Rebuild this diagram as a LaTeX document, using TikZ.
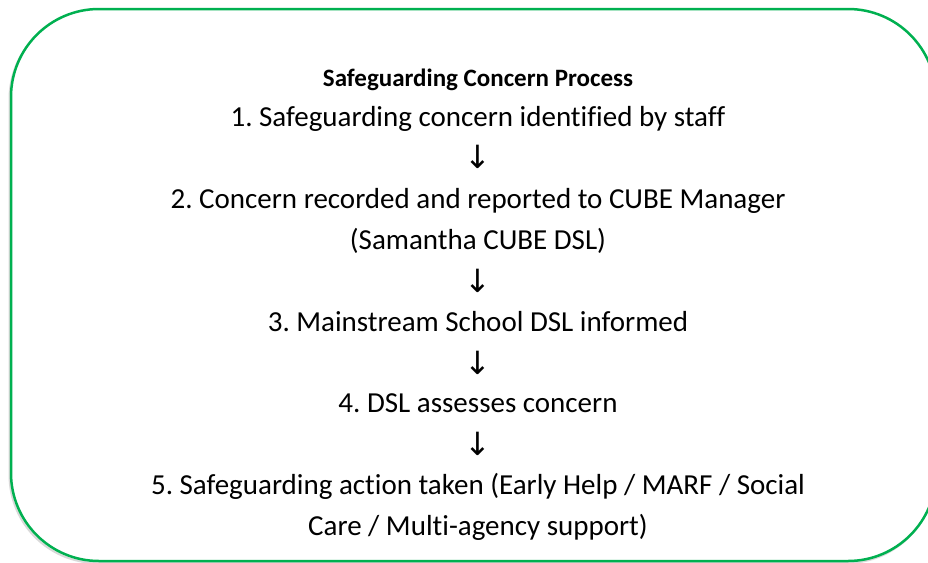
\documentclass[tikz,border=0pt]{standalone}
\usepackage{fontspec}
\setmainfont{Carlito}[Ligatures={NoCommon}]
\newfontfamily\arrowfont{DejaVu Sans}
\definecolor{boxgreen}{HTML}{00B050}
\tikzset{
  line/.style={anchor=base, inner sep=0pt, font=\fontsize{29}{35}\selectfont\frenchspacing},
  title/.style={anchor=base, inner sep=0pt, font=\fontsize{25}{30}\selectfont\bfseries},
  arrowsym/.style={anchor=base, inner sep=0pt, font=\fontsize{32}{36}\selectfont\arrowfont}
}
\begin{document}
\begin{tikzpicture}[x=1pt,y=-1pt]
\useasboundingbox (0,0) rectangle (928,562);
\clip (0,0) rectangle (928,562);
\draw[black!15, line width=2pt, rounded corners=88pt] (9.5,11) rectangle (934.5,563);
\draw[boxgreen, line width=2.5pt, rounded corners=88pt, fill=white] (11,9) rectangle (936,561);
\node[title] (t) at (478,86) {Safeguarding Concern Process};
\node[line] (s1) at (478,126) {1. Safeguarding concern identified by staff};
\node[arrowsym] (a1) at (478,168) {↓};
\node[line] (s2) at (478,208) {2. Concern recorded and reported to CUBE Manager};
\node[line] (s2b) at (478,249) {(Samantha CUBE DSL)};
\node[arrowsym] (a2) at (478,292) {↓};
\node[line] (s3) at (478,331) {3. Mainstream School DSL informed};
\node[arrowsym] (a3) at (478,374) {↓};
\node[line] (s4) at (478,412) {4. DSL assesses concern};
\node[arrowsym] (a4) at (478,455) {↓};
\node[line] (s5) at (478,494) {5. Safeguarding action taken (Early Help / MARF / Social};
\node[line] (s5b) at (478,535) {Care / Multi-agency support)};
\end{tikzpicture}
\end{document}
